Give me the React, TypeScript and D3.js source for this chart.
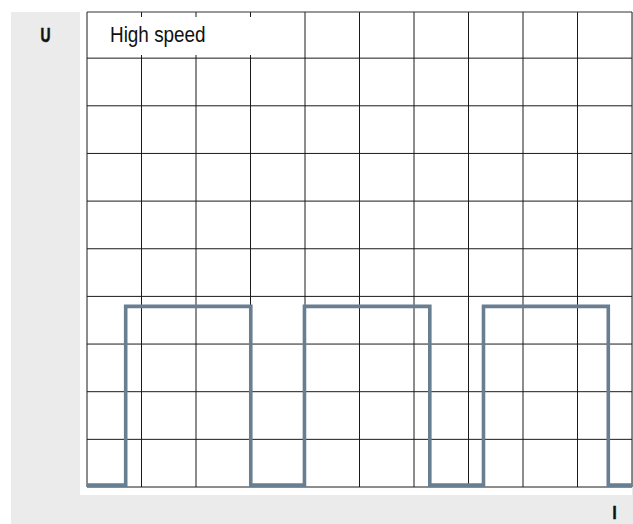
import React from "react";
import * as d3 from "d3";

// Grid divisions
const xGridTicks = [0, 1, 2, 3, 4, 5, 6, 7, 8, 9, 10];
const yGridTicks = [0, 1, 2, 3, 4, 5, 6, 7, 8, 9];

// Square-wave signal (I on x, U on y)
const signalI = [0, 0.71, 3.005, 3.99, 6.29, 7.275, 9.565, 10];
const signalU = [0.04, 3.79, 0.04, 3.79, 0.04, 3.79, 0.04, 0.04];

const title = "High speed";
const yLabel = "U";
const xLabel = "I";

const W = 633;
const H = 524;

export default function App() {
  const left = 87;
  const right = 632;
  const top = 12;
  const bottom = 487;

  const x = d3.scaleLinear().domain([0, 10]).range([left, right]);
  const y = d3.scaleLinear().domain([0, 10]).range([bottom, 10.5]);

  const pts = signalI.map((v, i) => [v, signalU[i]] as [number, number]);
  const line = d3
    .line<[number, number]>()
    .x((d) => x(d[0]))
    .y((d) => y(d[1]))
    .curve(d3.curveStepAfter);

  const font = "'Liberation Sans', Arial, sans-serif";

  return (
    <svg
      width={W}
      height={H}
      style={{ position: "absolute", left: 0, top: 0, display: "block" }}
    >
      <rect x={0} y={0} width={W} height={H} fill="#ffffff" />
      <rect x={11} y={12} width={W - 11} height={H - 12} fill="#ebebeb" />
      <rect x={80} y={0} width={552} height={495} fill="#ffffff" />

      {/* vertical grid */}
      {xGridTicks.map((t) => (
        <line
          key={"vx" + t}
          x1={x(t)}
          x2={x(t)}
          y1={top}
          y2={bottom}
          stroke="#1a1a1a"
          strokeWidth={1}
        />
      ))}
      {/* horizontal grid */}
      {yGridTicks.map((t) => (
        <line
          key={"hy" + t}
          x1={left}
          x2={right}
          y1={y(t)}
          y2={y(t)}
          stroke="#1a1a1a"
          strokeWidth={1}
        />
      ))}
      <line x1={left} x2={right} y1={top} y2={top} stroke="#333" strokeWidth={1} />

      {/* title box */}
      <rect x={88} y={17} width={215.5} height={38} fill="#ffffff" />
      <text
        transform="translate(110,42) scale(0.86,1)"
        fontFamily={font}
        fontSize={22}
        fill="#111"
      >
        {title}
      </text>

      {/* signal */}
      <path d={line(pts) || ""} fill="none" stroke="#687e91" strokeWidth={3.6} />

      <text
        transform="translate(40.5,42) scale(0.66,1)"
        fontFamily={font}
        fontWeight="bold"
        fontSize={21}
        fill="#111"
        stroke="#111"
        strokeWidth={0.6}
      >
        {yLabel}
      </text>
      <text
        transform="translate(612.5,519) scale(0.8,1)"
        fontFamily={font}
        fontWeight="bold"
        fontSize={18.5}
        fill="#111"
        stroke="#111"
        strokeWidth={0.6}
      >
        {xLabel}
      </text>
    </svg>
  );
}
